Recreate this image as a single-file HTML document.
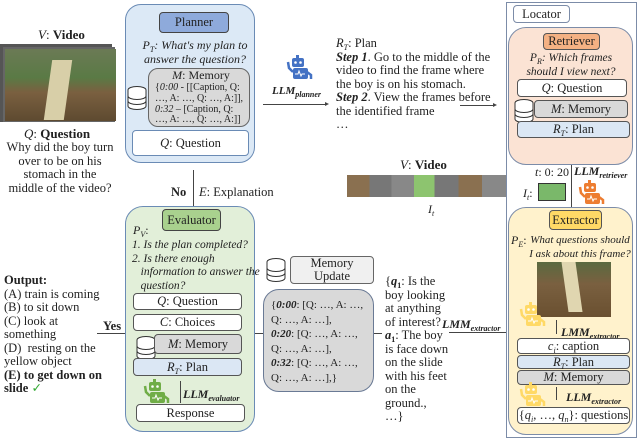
<!DOCTYPE html>
<html><head><meta charset="utf-8"><style>
body{margin:0;width:640px;height:440px;background:#fff;position:relative;overflow:hidden;font-family:"Liberation Serif",serif;font-size:11.5px;color:#222}
.a{position:absolute}
.b{position:absolute;box-sizing:border-box;border:1px solid #555;border-radius:4px;text-align:center;font-size:12.5px}
.w{background:#fff}.g{background:#d9d9d9}.lb{background:#dbe7f4}
.t{position:absolute;white-space:nowrap;line-height:13.5px}
i{font-style:italic}
sub{font-size:8px;line-height:0;vertical-align:baseline;position:relative;top:3px}
.h{position:absolute;background:#444}
</style></head><body>
<svg width="0" height="0" style="position:absolute"><defs>
<g id="db"><ellipse cx="10" cy="4" rx="9" ry="3.5" fill="#fff" stroke="#333"/><path d="M1 4v16a9 3.5 0 0 0 18 0V4" fill="#fff" stroke="#333"/><path d="M1 10a9 3.5 0 0 0 18 0M1 15a9 3.5 0 0 0 18 0" fill="none" stroke="#333"/></g>
<g id="rb"><rect x="10" y="0" width="3" height="3" fill="currentColor"/><rect x="6" y="3" width="12" height="9" rx="2" fill="currentColor"/><circle cx="9.5" cy="7.5" r="1.3" fill="#fff"/><circle cx="14.5" cy="7.5" r="1.3" fill="#fff"/><rect x="7" y="13" width="15" height="11" rx="2" fill="currentColor"/><path d="M7 17L3 13L2 7" stroke="currentColor" stroke-width="2.5" fill="none"/><path d="M21 17L25 20L25 24" stroke="currentColor" stroke-width="2.5" fill="none"/><path d="M9 19h3l1-3 2 5 1-2h3" stroke="#fff" fill="none" stroke-width="1"/></g>
</defs></svg>

<!-- video left -->
<div class="t" style="left:38px;top:28px;font-size:13px"><i>V</i>: <b>Video</b></div>
<div class="a" style="left:0;top:44px;width:112px;height:78px;background:#555"></div>
<div class="a" style="left:3px;top:47px;width:112px;height:75px;background:#666"></div>
<div class="a" style="left:5px;top:49px;width:111px;height:72px;background:linear-gradient(180deg,#6b7a55 0%,#5a7a45 40%,#7a6040 60%,#5e4a30 100%)"></div>
<div class="a" style="left:48px;top:60px;width:20px;height:60px;background:#d8cfa8;transform:skewX(-8deg)"></div>
<div class="t" style="left:24px;top:127px;font-size:13px"><i>Q</i>: <b>Question</b></div>
<div class="t" style="left:4px;top:141px;font-size:12.5px;text-align:center;width:112px">Why did the boy turn<br>over to be on his<br>stomach in the<br>middle of the video?</div>

<!-- Planner -->
<div class="b" style="left:125px;top:4px;width:130px;height:159px;background:#dce9f6;border-color:#6a8bb5;border-radius:16px"></div>
<div class="b" style="left:159px;top:12px;width:70px;height:21px;background:#8eaadb;border-color:#444;line-height:19px">Planner</div>
<div class="t" style="left:140px;top:39px;font-size:12px;text-align:center;width:110px"><i>P<sub>T</sub>: What's my plan to<br>answer the question?</i></div>
<div class="b g" style="left:148px;top:68px;width:102px;height:59px;border-radius:10px;border-color:#666"></div>
<div class="t" style="left:156px;top:69px;font-size:12px;width:90px;text-align:center"><i>M</i>: Memory</div>
<div class="t" style="left:155px;top:83px;font-size:10px;line-height:10.8px">{<i>0:00</i> - [[Caption, Q:<br>…, A: …, Q: …, A:]],<br><i>0:32</i> – [Caption, Q:<br>…, A: …, Q: …, A:]]</div>
<svg class="a" style="left:127px;top:86px" width="22" height="26"><use href="#db"/></svg>
<div class="b w" style="left:132px;top:130px;width:117px;height:26px;line-height:24px;border-color:#6a8bb5"><i>Q</i>: Question</div>

<div class="h" style="left:193px;top:170px;width:1px;height:36px"></div>
<div class="t" style="left:171px;top:186px;font-size:12.5px"><b>No</b></div>
<div class="t" style="left:199px;top:186px;font-size:12.5px"><i>E</i>: Explanation</div>

<!-- LLM planner -->
<svg class="a" style="left:286px;top:55px;color:#4472c4" width="28" height="26"><use href="#rb"/></svg>
<div class="t" style="left:272px;top:85px;font-size:11px"><b><i>LLM</i></b><sub><b><i>planner</i></b></sub></div>
<div class="h" style="left:263px;top:104px;width:64px;height:1px"></div>
<div class="a" style="left:325px;top:102px;border-left:4px solid #444;border-top:2px solid transparent;border-bottom:2px solid transparent"></div>
<div class="t" style="left:336px;top:37px;font-size:12.5px"><i>R<sub>T</sub></i>: Plan<br><b><i>Step 1</i></b>. Go to the middle of the<br>video to find the frame where<br>the boy is on his stomach.<br><b><i>Step 2</i></b>. View the frames before<br>the identified frame<br>…</div>
<div class="h" style="left:460px;top:105px;width:34px;height:1px"></div>
<div class="a" style="left:493px;top:103px;border-left:4px solid #444;border-top:2px solid transparent;border-bottom:2px solid transparent"></div>

<!-- Locator -->
<div class="b" style="left:506px;top:2px;width:131px;height:436px;border-radius:0;border-color:#7c8ca8"></div>
<div class="b w" style="left:513px;top:5px;width:57px;height:18px;line-height:16px;border-color:#7c8ca8">Locator</div>
<div class="b" style="left:508px;top:27px;width:125px;height:138px;background:#fbe3d4;border-color:#7c8ca8;border-radius:18px"></div>
<div class="b" style="left:543px;top:33px;width:57px;height:17px;background:#f4b183;border-color:#555;line-height:15px">Retriever</div>
<div class="t" style="left:512px;top:52px;width:118px;text-align:center;font-size:11.5px"><i>P<sub>R</sub>: Which frames<br>should I view next?</i></div>
<div class="b w" style="left:517px;top:79px;width:110px;height:18px;line-height:16px"><i>Q</i>: Question</div>
<svg class="a" style="left:514px;top:99px" width="22" height="26"><use href="#db"/></svg>
<div class="b g" style="left:534px;top:100px;width:94px;height:18px;line-height:16px"><i>M</i>: Memory</div>
<div class="b lb" style="left:517px;top:121px;width:113px;height:17px;line-height:15px"><i>R<sub>T</sub></i>: Plan</div>

<div class="h" style="left:571px;top:165px;width:1px;height:42px"></div>
<div class="t" style="left:535px;top:166px;font-size:12px"><i>t</i>: 0: 20</div>
<div class="t" style="left:574px;top:165px;font-size:12px"><b><i>LLM</i></b><sub><b><i>retriever</i></b></sub></div>
<div class="t" style="left:523px;top:187px;font-size:12px"><i>I<sub>t</sub></i>:</div>
<div class="a" style="left:538px;top:183px;width:28px;height:18px;background:#7ab86a;border:1px solid #333;box-sizing:border-box"></div>
<svg class="a" style="left:578px;top:180px;color:#ed7d31" width="28" height="26"><use href="#rb"/></svg>

<!-- video strip -->
<div class="t" style="left:400px;top:158px;font-size:13px"><i>V</i>: <b>Video</b></div>
<div class="a" style="left:347px;top:175px;width:159px;height:22px;background:linear-gradient(90deg,#8a7050 0 14%,#777 14% 28%,#888 28% 42%,#8dc46f 42% 55%,#777 55% 70%,#8a7050 70% 85%,#888 85%)"></div>
<div class="t" style="left:428px;top:203px;font-size:12px"><i>I<sub>t</sub></i></div>

<!-- Extractor -->
<div class="b" style="left:508px;top:207px;width:125px;height:228px;background:#fff2cc;border-color:#7c8ca8;border-radius:18px"></div>
<div class="b" style="left:549px;top:210px;width:53px;height:20px;background:#ffd966;border-color:#555;line-height:18px">Extractor</div>
<div class="t" style="left:511px;top:234px;font-size:12px"><i>P<sub>E</sub></i>:</div>
<div class="t" style="left:529px;top:234px;font-size:11px;text-align:center;width:102px"><i>What questions should<br>I ask about this frame?</i></div>
<div class="a" style="left:537px;top:262px;width:74px;height:55px;background:linear-gradient(180deg,#5a6a40 0%,#7a6040 40%,#6a5030 100%)"></div>
<div class="a" style="left:565px;top:262px;width:14px;height:50px;background:#e0d6b0;transform:skewX(8deg)"></div>
<svg class="a" style="left:519px;top:302px;color:#ffd966" width="28" height="26"><use href="#rb"/></svg>
<div class="h" style="left:556px;top:320px;width:1px;height:14px"></div>
<div class="t" style="left:561px;top:326px;font-size:12px"><b><i>LMM</i></b><sub><b><i>extractor</i></b></sub></div>
<div class="b w" style="left:517px;top:338px;width:113px;height:16px;line-height:14px"><i>c<sub>i</sub></i>: caption</div>
<div class="b lb" style="left:517px;top:355px;width:113px;height:14px;line-height:12px"><i>R<sub>T</sub></i>: Plan</div>
<div class="b g" style="left:517px;top:370px;width:113px;height:15px;line-height:13px"><i>M</i>: Memory</div>
<svg class="a" style="left:519px;top:382px;color:#ffd966" width="28" height="26"><use href="#rb"/></svg>
<div class="h" style="left:556px;top:387px;width:1px;height:13px"></div>
<div class="t" style="left:566px;top:391px;font-size:12px"><b><i>LLM</i></b><sub><b><i>extractor</i></b></sub></div>
<div class="b w" style="left:517px;top:407px;width:113px;height:17px;line-height:15px">{<i>q<sub>i</sub></i>, …, <i>q<sub>n</sub></i>}: questions</div>

<!-- extractor output -->
<div class="h" style="left:449px;top:332px;width:57px;height:1px"></div>
<div class="t" style="left:442px;top:318px;font-size:12px"><b><i>LMM</i></b><sub><b><i>extractor</i></b></sub></div>
<div class="t" style="left:385px;top:275px;font-size:12.5px">{<b><i>q</i><sub>1</sub></b>: Is the<br>boy looking<br>at anything<br>of interest?<br><b><i>a</i><sub>1</sub></b>: The boy<br>is face down<br>on the slide<br>with his feet<br>on the<br>ground.,<br>…}</div>
<div class="h" style="left:362px;top:333px;width:20px;height:1px"></div>

<!-- Memory update -->
<svg class="a" style="left:266px;top:258px" width="22" height="26"><use href="#db"/></svg>
<div class="b" style="left:290px;top:256px;width:84px;height:28px;background:#f0f0f0;border-color:#666;line-height:13px;padding-top:0">Memory<br>Update</div>
<div class="b g" style="left:263px;top:289px;width:111px;height:103px;border-radius:16px;border-color:#6a7a95"></div>
<div class="t" style="left:271px;top:298px;font-size:11px;line-height:14.5px">{<i><b>0:00</b></i>: [Q: …, A: …,<br>Q: …, A: …],<br><i><b>0:20</b></i>: [Q: …, A: …,<br>Q: …, A: …],<br><i><b>0:32</b></i>: [Q: …, A: …,<br>Q: …, A: …],}</div>
<div class="h" style="left:250px;top:333px;width:13px;height:1px"></div>

<!-- Evaluator -->
<div class="b" style="left:125px;top:206px;width:130px;height:226px;background:#e2efd9;border-color:#6a8bb5;border-radius:18px"></div>
<div class="b" style="left:162px;top:209px;width:59px;height:22px;background:#a9d18e;border-color:#444;line-height:20px">Evaluator</div>
<div class="t" style="left:133px;top:224px;font-size:12px"><i>P<sub>V</sub></i>:</div>
<div class="t" style="left:132px;top:239px;font-size:11.5px"><i>1. Is the plan completed?<br>2. Is there enough<br>&nbsp;&nbsp;&nbsp;information to answer the<br>&nbsp;&nbsp;&nbsp;question?</i></div>
<div class="b w" style="left:133px;top:293px;width:109px;height:17px;line-height:15px"><i>Q</i>: Question</div>
<div class="b w" style="left:133px;top:314px;width:109px;height:17px;line-height:15px"><i>C</i>: Choices</div>
<svg class="a" style="left:136px;top:336px" width="22" height="26"><use href="#db"/></svg>
<div class="b g" style="left:154px;top:334px;width:88px;height:20px;line-height:18px"><i>M</i>: Memory</div>
<div class="b lb" style="left:133px;top:358px;width:109px;height:18px;line-height:16px"><i>R<sub>T</sub></i>: Plan</div>
<svg class="a" style="left:143px;top:379px;color:#70ad47" width="28" height="26"><use href="#rb"/></svg>
<div class="h" style="left:180px;top:381px;width:1px;height:22px"></div>
<div class="t" style="left:183px;top:388px;font-size:12px"><b><i>LLM</i></b><sub><b><i>evaluator</i></b></sub></div>
<div class="b w" style="left:136px;top:404px;width:109px;height:18px;line-height:16px">Response</div>

<!-- Output -->
<div class="h" style="left:97px;top:333px;width:28px;height:1px"></div>
<div class="t" style="left:103px;top:320px;font-size:12.5px"><b>Yes</b></div>
<div class="t" style="left:4px;top:274px;font-size:12.5px"><b>Output:</b><br>(A) train is coming<br>(B) to sit down<br>(C) look at<br>something<br>(D)&nbsp; resting on the<br>yellow object<br><b>(E) to get down on<br>slide</b> <span style="color:#3a3">✓</span></div>
</body></html>
